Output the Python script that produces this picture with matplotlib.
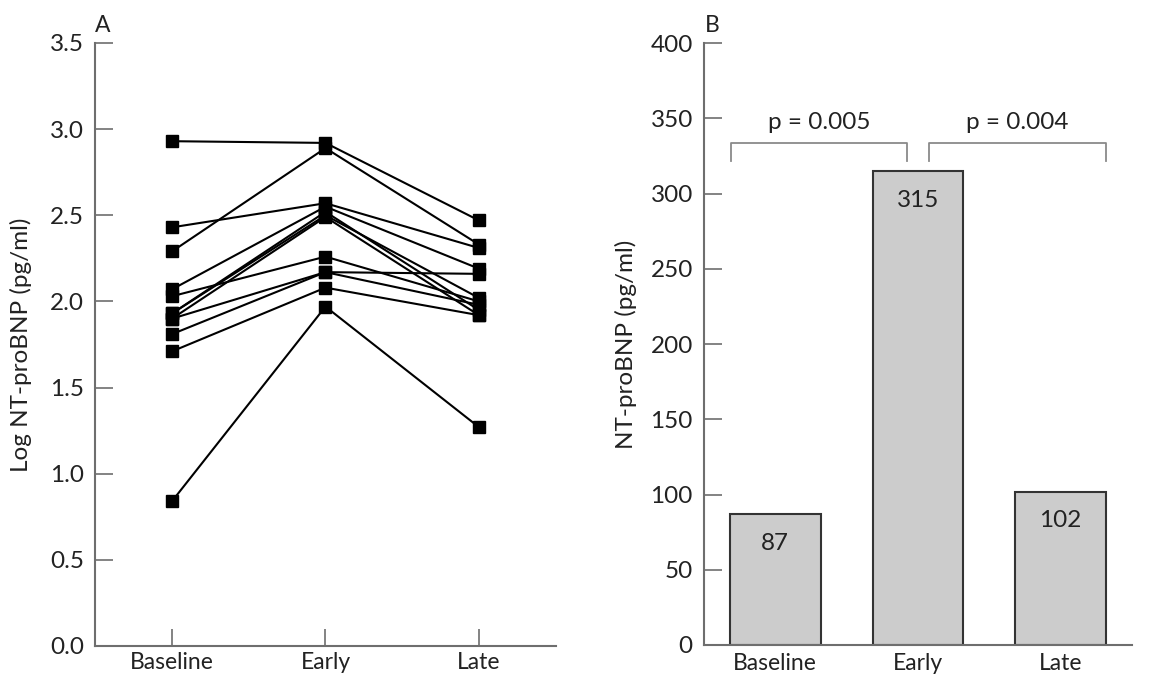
import matplotlib.pyplot as plt

plt.rcParams['font.family'] = ['Lato', 'DejaVu Sans']

# time points
stages = ['Baseline', 'Early', 'Late']

# log NT-proBNP per patient (pg/ml)
log_baseline = [2.93, 2.29, 2.43, 2.07, 2.03, 1.93, 1.90, 1.90, 1.81, 1.71, 0.84, 1.93]
log_early = [2.92, 2.89, 2.57, 2.55, 2.26, 2.52, 2.49, 2.17, 2.17, 2.08, 1.97, 2.50]
log_late = [2.47, 2.33, 2.31, 2.19, 2.00, 1.95, 1.92, 2.16, 1.98, 1.92, 1.27, 2.02]

# median NT-proBNP (pg/ml)
medians = [87, 315, 102]

# pairwise comparisons: (from, to, label)
comparisons = [(0, 1, 'p = 0.005'), (1, 2, 'p = 0.004')]

axis_gray = '#6e6e6e'
text_color = '#222222'
fs = 17.5

fig = plt.figure(figsize=(11.63, 6.77), dpi=100)
ax1 = fig.add_axes([0.0819, 0.0458, 0.3959, 0.8907])
ax2 = fig.add_axes([0.6053, 0.0473, 0.3680, 0.8888])

for ax in (ax1, ax2):
    for side in ('top', 'right'):
        ax.spines[side].set_visible(False)
    for side in ('left', 'bottom'):
        ax.spines[side].set_color(axis_gray)
        ax.spines[side].set_linewidth(1.5)
    ax.set_xlim(-0.5, 2.5)
    ax.set_xticks(range(len(stages)))
    ax.set_xticklabels(stages)
    ax.tick_params(axis='y', direction='in', length=13, width=1.2, color=axis_gray,
                   labelsize=fs, labelcolor=text_color, pad=8)
    ax.tick_params(axis='x', direction='in', length=12, width=1.2, color=axis_gray,
                   labelsize=fs - 1, labelcolor=text_color, pad=4)

# panel A: individual patients
for i in range(len(log_baseline)):
    ax1.plot(range(3), [log_baseline[i], log_early[i], log_late[i]], color='black',
             linewidth=1.5, marker='s', markersize=9, markeredgecolor='black',
             markerfacecolor='black', zorder=3)
ax1.set_ylim(0, 3.5)
ax1.set_yticks([0.0, 0.5, 1.0, 1.5, 2.0, 2.5, 3.0, 3.5])
ax1.set_yticklabels(['%.1f' % v for v in ax1.get_yticks()])
ax1.set_ylabel('Log NT-proBNP (pg/ml)', fontsize=fs, color=text_color, labelpad=13)

# panel B: medians
bar_w = 0.635
ax2.bar(range(3), medians, width=bar_w, color='#cccccc', edgecolor='#333333',
        linewidth=1.5, zorder=2)
for i, v in enumerate(medians):
    ax2.annotate(str(v), (i, v), xytext=(0, -21), textcoords='offset points',
                 ha='center', va='center', fontsize=fs, color=text_color)
ax2.set_ylim(0, 400)
ax2.set_yticks(range(0, 401, 50))
ax2.tick_params(axis='x', length=0, pad=6)
ax2.set_ylabel('NT-proBNP (pg/ml)', fontsize=fs, color=text_color, labelpad=10)

# significance brackets
for a, b, label in comparisons:
    if a == 0:
        x0, x1 = a - bar_w / 2 + 0.01, b - 0.08
    else:
        x0, x1 = a + 0.08, b + bar_w / 2
    ax2.plot([x0, x0, x1, x1], [322, 334, 334, 322], color='#8a8a8a', linewidth=1.3,
             clip_on=False)
    ax2.text((x0 + x1) / 2, 347, label, ha='center', va='center', fontsize=fs,
             color=text_color)

fig.text(0.0886, 0.963, 'A', fontsize=fs - 1, color=text_color, ha='center', va='center')
fig.text(0.6125, 0.963, 'B', fontsize=fs - 1, color=text_color, ha='center', va='center')

fig.savefig('out.png', dpi=100)
